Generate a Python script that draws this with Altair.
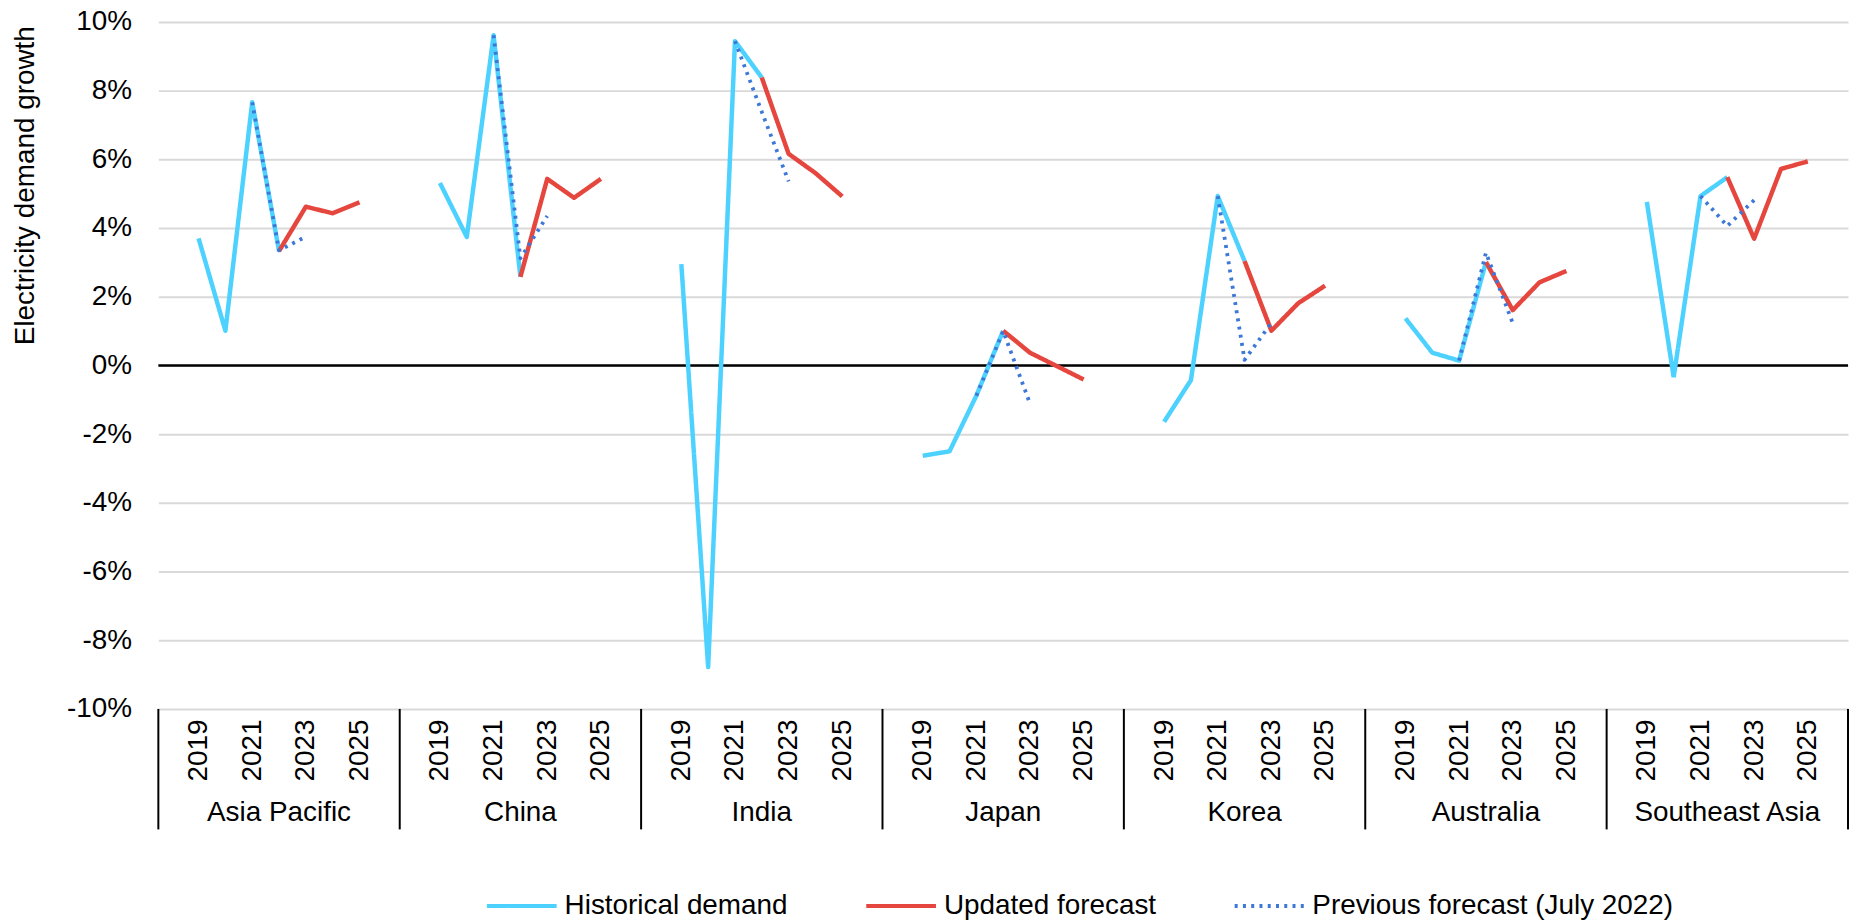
import altair as alt
import pandas as pd

# ---------------- data ----------------
groups = ["Asia Pacific", "China", "India", "Japan", "Korea", "Australia", "Southeast Asia"]

hist_years = [2019, 2020, 2021, 2022]
historical = [
    [3.70, 1.01, 7.66, 3.33],
    [5.31, 3.74, 9.61, 2.58],
    [2.95, -8.78, 9.44, 8.38],
    [-2.63, -2.50, -0.88, 1.01],
    [-1.64, -0.43, 4.93, 3.04],
    [1.37, 0.37, 0.14, 3.01],
    [4.76, -0.34, 4.93, 5.48],
]

upd_years = [2022, 2023, 2024, 2025]
updated = [
    [3.33, 4.62, 4.43, 4.75],
    [2.58, 5.43, 4.88, 5.43],
    [8.38, 6.16, 5.60, 4.92],
    [1.01, 0.37, -0.02, -0.41],
    [3.04, 1.01, 1.81, 2.32],
    [3.01, 1.61, 2.42, 2.75],
    [5.48, 3.69, 5.72, 5.94],
]

prev_years = [2021, 2022, 2023]
previous = [
    [7.66, 3.35, 3.75],
    [9.61, 3.12, 4.35],
    [9.44, 7.38, 5.36],
    [-0.88, 1.00, -1.11],
    [4.93, 0.16, 1.24],
    [0.14, 3.28, 1.23],
    [4.93, 4.06, 4.81],
]

series_names = ["Historical demand", "Updated forecast", "Previous forecast (July 2022)"]
series_colors = ["#4DD2FF", "#E5473F", "#3D78D8"]
year_ticks = [2019, 2021, 2023, 2025]
y_ticks = [-10, -8, -6, -4, -2, 0, 2, 4, 6, 8, 10]

# ---------------- layout ----------------
SLOTS = 9          # one blank slot before 2019 and one after 2025 in each group
BASE_YEAR = 2018
W, H = 1697, 690
FONT = "Liberation Sans"


def xpos(g, yr):
    return g * SLOTS + (yr - BASE_YEAR) + 0.5


rows = []
for g, name in enumerate(groups):
    for yrs, vals, s in ((hist_years, historical[g], series_names[0]),
                         (upd_years, updated[g], series_names[1]),
                         (prev_years, previous[g], series_names[2])):
        for yr, v in zip(yrs, vals):
            rows.append({"group": name, "series": s, "year": yr, "x": xpos(g, yr), "value": v})
df = pd.DataFrame(rows)

tick_pos = [xpos(g, yr) for g in range(len(groups)) for yr in year_ticks]
x_domain = [0, SLOTS * len(groups)]

x_axis = alt.Axis(values=tick_pos,
                  labelExpr="'' + (%d + floor(datum.value %% %d))" % (BASE_YEAR, SLOTS),
                  labelAngle=270, labelFontSize=28, labelFont=FONT, labelColor="black",
                  labelPadding=10, ticks=False, tickSize=0, domain=False, grid=False,
                  labelOverlap=False, title=None)
y_axis = alt.Axis(values=y_ticks, labelExpr="datum.value + '%'",
                  grid=True, gridColor="#d9d9d9", gridWidth=2,
                  ticks=False, domain=False, labelFontSize=28, labelFont=FONT,
                  labelColor="black", labelPadding=27,
                  title="Electricity demand growth", titleFontSize=28, titleFont=FONT,
                  titleFontWeight="normal", titleColor="black", titleAngle=270,
                  titleX=-133, titleY=164, titleAlign="center", titleBaseline="middle")

xs = alt.Scale(domain=x_domain, nice=False, zero=False)
ys = alt.Scale(domain=[-10, 10], nice=False, zero=False)

legend = alt.Legend(title=None, orient="none", legendX=328, legendY=851,
                    direction="horizontal", symbolType="stroke", symbolSize=4900,
                    symbolStrokeWidth=4, labelFontSize=28, labelFont=FONT,
                    labelColor="black", labelOffset=6, columnPadding=70,
                    padding=0, labelLimit=1000)

color = alt.Color("series:N", scale=alt.Scale(domain=series_names, range=series_colors),
                  legend=legend)
dash = alt.StrokeDash("series:N",
                      scale=alt.Scale(domain=series_names, range=[[1, 0], [1, 0], [3, 5.3]]),
                      legend=legend)

X = alt.X("x:Q", scale=xs, axis=x_axis)
Y = alt.Y("value:Q", scale=ys, axis=y_axis)

base = alt.Chart(df)
lines = []
for s, w in zip(series_names, [4.5, 4.5, 3.8]):
    lines.append(
        base.transform_filter(alt.datum.series == s)
        .mark_line(strokeWidth=w, strokeJoin="round")
        .encode(x=X, y=Y, color=color, strokeDash=dash, detail="group:N")
    )

zero = alt.Chart(pd.DataFrame({"value": [0]})).mark_rule(color="black", strokeWidth=2.5).encode(
    y=Y, x=alt.value(0), x2=alt.value(W))

sep = alt.Chart(pd.DataFrame({"x": [g * SLOTS for g in range(len(groups) + 1)]})).mark_rule(
    color="black", strokeWidth=2).encode(x=X, y=alt.value(H), y2=alt.value(H + 121))

glabels = alt.Chart(pd.DataFrame({"x": [g * SLOTS + SLOTS / 2 for g in range(len(groups))],
                                  "group": groups})).mark_text(
    fontSize=28, font=FONT, color="black", baseline="alphabetic", align="center").encode(
    x=X, y=alt.value(H + 113), text="group:N")

chart = alt.layer(zero, *lines, sep, glabels).properties(
    width=W, height=H,
    autosize=alt.AutoSizeParams(type="none"),
    padding={"left": 151, "top": 12, "right": 2, "bottom": 211},
).configure(font=FONT).configure_view(stroke=None)

chart.save("out.html", embed_options={"renderer": "svg", "actions": False})
